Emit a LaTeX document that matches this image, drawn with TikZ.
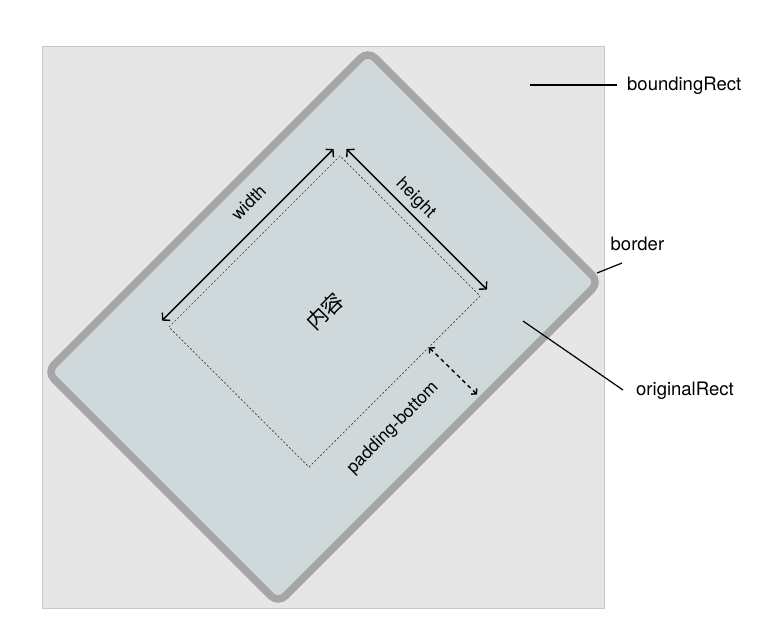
\documentclass[tikz,border=0pt]{standalone}
\usepackage{fontspec}
\setmainfont{TeX Gyre Heros}
\newfontfamily\cjk{Noto Sans CJK JP}
\usetikzlibrary{arrows.meta,calc}
\definecolor{bbfill}{RGB}{230,230,230}
\definecolor{bbline}{RGB}{200,200,200}
\definecolor{rectfill}{RGB}{207,216,218}
\definecolor{rectline}{RGB}{166,166,166}
\begin{document}
\begin{tikzpicture}[x=1pt,y=-1pt,
  dimarrow/.style={line width=1.4pt, {Straight Barb[length=5pt,width=11pt]}-{Straight Barb[length=5pt,width=11pt]}},
  padarrow/.style={line width=1.4pt, dash pattern=on 4pt off 3.5pt, {Straight Barb[length=3.5pt,width=8pt]}-{Straight Barb[length=3.5pt,width=8pt]}},
  lbl/.style={inner sep=0pt, font=\fontsize{18.5}{22}\selectfont},
  inlbl/.style={inner sep=0pt, font=\fontsize{17.5}{21}\selectfont},
  leader/.style={line width=1.2pt}
]
\useasboundingbox (0,0) rectangle (770,635);
% bounding rect
\node[draw=bbline, fill=bbfill, line width=1pt, minimum width=562pt, minimum height=562pt, inner sep=0pt, anchor=north west] (bbox) at (42,46) {};
% original rect
\node[draw=rectline, fill=rectfill, line width=7.5pt, rounded corners=10pt, rotate=45, minimum width=454pt, minimum height=327pt, inner sep=0pt] (orig) at (323,327) {};
% content
\node[draw=black!75, dash pattern=on 2pt off 2pt, line width=0.7pt, rotate=45, minimum width=242pt, minimum height=198pt, inner sep=0pt, font=\cjk\fontsize{21}{24}\selectfont] (content) at (324.5,311.5) {内容};
% width / height arrows
\draw[dimarrow] ([shift={(-6.4,-6.4)}]content.north west) -- ([shift={(-6.4,-6.4)}]content.north east);
\draw[dimarrow] ([shift={(6.4,-6.4)}]content.north east) -- ([shift={(6.4,-6.4)}]content.south east);
% padding-bottom arrow
\coordinate (pbA) at ($(content.south east)!0.3!(content.south west)$);
\coordinate (pbB) at ($(pbA)+(48,47)$);
\draw[padarrow] (pbA) -- (pbB);
% inner labels
\node[inlbl, rotate=45] (wl) at (248.5,202.5) {width};
\node[inlbl, rotate=-45] (hl) at (415.5,198.5) {height};
\node[inlbl, rotate=45] (pl) at (393,428) {padding-bottom};
% outer labels
\node[lbl, anchor=base west] (brl) at (627,90.7) {boundingRect};
\coordinate (brA) at (530,85);
\draw[leader, shorten >=10pt] (brA) -- (brA -| brl.west);
\node[lbl, anchor=base west] (bdl) at (610.5,250) {border};
\coordinate (bdA) at (597,273);
\coordinate (bdB) at (622,263);
\draw[leader] (bdA) -- (bdB);
\node[lbl, anchor=base west] (orl) at (636,395) {originalRect};
\coordinate (orA) at (523,321);
\coordinate (orB) at (623,390);
\draw[leader] (orA) -- (orB);
\end{tikzpicture}
\end{document}
